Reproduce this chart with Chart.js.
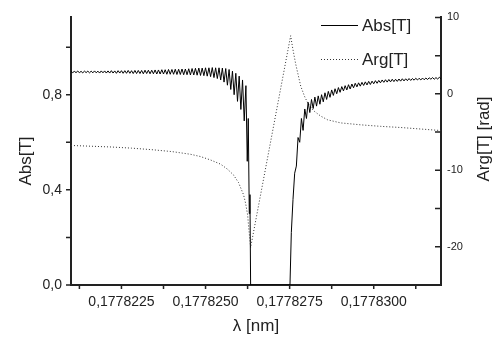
<!DOCTYPE html>
<html>
<head>
<meta charset="utf-8">
<script src="https://cdn.jsdelivr.net/npm/chart.js@4/dist/chart.umd.min.js"></script>
<style>
  html, body { margin: 0; padding: 0; background: #fff; }
  canvas { display: block; }
</style>
</head>
<body>
<canvas id="c" width="498" height="338"></canvas>
<script>
// Transmission spectrum near the resonance: modulus and phase of T(λ)
const absLambda = [
  0.17782100, 0.17782105, 0.17782110, 0.17782115, 0.17782120, 0.17782125, 0.17782130, 0.17782135, 0.17782140, 0.17782145,
  0.17782150, 0.17782155, 0.17782160, 0.17782165, 0.17782170, 0.17782175, 0.17782180, 0.17782185, 0.17782190, 0.17782195,
  0.17782200, 0.17782205, 0.17782210, 0.17782215, 0.17782220, 0.17782225, 0.17782230, 0.17782235, 0.17782240, 0.17782245,
  0.17782250, 0.17782255, 0.17782260, 0.17782265, 0.17782270, 0.17782275, 0.17782280, 0.17782285, 0.17782290, 0.17782295,
  0.17782300, 0.17782305, 0.17782310, 0.17782315, 0.17782320, 0.17782325, 0.17782330, 0.17782335, 0.17782340, 0.17782345,
  0.17782350, 0.17782355, 0.17782360, 0.17782365, 0.17782370, 0.17782375, 0.17782380, 0.17782385, 0.17782390, 0.17782395,
  0.17782400, 0.17782405, 0.17782410, 0.17782415, 0.17782420, 0.17782425, 0.17782430, 0.17782435, 0.17782440, 0.17782445,
  0.17782450, 0.17782455, 0.17782460, 0.17782465, 0.17782470, 0.17782475, 0.17782480, 0.17782485, 0.17782490, 0.17782495,
  0.17782500, 0.17782505, 0.17782510, 0.17782515, 0.17782520, 0.17782525, 0.17782530, 0.17782535, 0.17782540, 0.17782545,
  0.17782550, 0.17782555, 0.17782560, 0.17782565, 0.17782570, 0.17782575, 0.17782580, 0.17782585, 0.17782590, 0.17782595,
  0.17782600, 0.17782605, 0.17782610, 0.17782615, 0.17782620,
  0.17782624, 0.17782627, 0.17782630, 0.17782632, 0.17782634, 0.17782751,
  0.17782755, 0.17782760, 0.17782765, 0.17782770, 0.17782775, 0.17782780, 0.17782785, 0.17782790, 0.17782795, 0.17782800,
  0.17782805, 0.17782810, 0.17782815, 0.17782820, 0.17782825, 0.17782830, 0.17782835, 0.17782840, 0.17782845, 0.17782850,
  0.17782855, 0.17782860, 0.17782865, 0.17782870, 0.17782875, 0.17782880, 0.17782885, 0.17782890, 0.17782895, 0.17782900,
  0.17782905, 0.17782910, 0.17782915, 0.17782920, 0.17782925, 0.17782930, 0.17782935, 0.17782940, 0.17782945, 0.17782950,
  0.17782955, 0.17782960, 0.17782965, 0.17782970, 0.17782975, 0.17782980, 0.17782985, 0.17782990, 0.17782995, 0.17783000,
  0.17783005, 0.17783010, 0.17783015, 0.17783020, 0.17783025, 0.17783030, 0.17783035, 0.17783040, 0.17783045, 0.17783050,
  0.17783055, 0.17783060, 0.17783065, 0.17783070, 0.17783075, 0.17783080, 0.17783085, 0.17783090, 0.17783095, 0.17783100,
  0.17783105, 0.17783110, 0.17783115, 0.17783120, 0.17783125, 0.17783130, 0.17783135, 0.17783140, 0.17783145, 0.17783150,
  0.17783155, 0.17783160, 0.17783165, 0.17783170, 0.17783175, 0.17783180, 0.17783185, 0.17783190, 0.17783195, 0.17783200
];
const absValue = [
  0.898, 0.893, 0.898, 0.893, 0.899, 0.893, 0.898, 0.892, 0.899, 0.893,
  0.899, 0.892, 0.899, 0.892, 0.900, 0.892, 0.899, 0.891, 0.900, 0.892,
  0.900, 0.891, 0.900, 0.891, 0.901, 0.891, 0.900, 0.890, 0.901, 0.891,
  0.901, 0.890, 0.901, 0.890, 0.902, 0.890, 0.901, 0.889, 0.902, 0.889,
  0.902, 0.889, 0.902, 0.888, 0.903, 0.889, 0.903, 0.888, 0.903, 0.888,
  0.904, 0.887, 0.904, 0.887, 0.905, 0.887, 0.905, 0.886, 0.906, 0.886,
  0.906, 0.886, 0.907, 0.885, 0.907, 0.885, 0.908, 0.884, 0.908, 0.884,
  0.909, 0.883, 0.910, 0.883, 0.911, 0.882, 0.912, 0.881, 0.912, 0.880,
  0.913, 0.878, 0.913, 0.876, 0.914, 0.872, 0.913, 0.868, 0.913, 0.862,
  0.912, 0.853, 0.910, 0.840, 0.906, 0.822, 0.899, 0.800, 0.890, 0.772,
  0.878, 0.738, 0.862, 0.690, 0.838,
  0.520, 0.700, 0.300, 0.380, 0.000, 0.000,
  0.220, 0.360, 0.470, 0.500, 0.620, 0.600, 0.700, 0.650, 0.740, 0.700,
  0.768, 0.725, 0.780, 0.742, 0.790, 0.752, 0.795, 0.760, 0.800, 0.770,
  0.808, 0.780, 0.814, 0.789, 0.820, 0.797, 0.825, 0.804, 0.830, 0.810,
  0.834, 0.816, 0.838, 0.820, 0.842, 0.824, 0.845, 0.829, 0.848, 0.833,
  0.850, 0.836, 0.852, 0.839, 0.854, 0.841, 0.856, 0.843, 0.857, 0.846,
  0.859, 0.848, 0.860, 0.850, 0.862, 0.852, 0.863, 0.853, 0.864, 0.854,
  0.865, 0.855, 0.865, 0.856, 0.866, 0.857, 0.867, 0.858, 0.867, 0.859,
  0.868, 0.860, 0.868, 0.861, 0.869, 0.862, 0.869, 0.862, 0.870, 0.863,
  0.870, 0.864, 0.871, 0.865, 0.872, 0.865, 0.872, 0.866, 0.873, 0.867
];
const argLambda = [
  0.17782100, 0.17782160, 0.17782220, 0.17782280, 0.17782340, 0.17782400, 0.17782455, 0.17782485,
  0.17782515, 0.17782545, 0.17782565, 0.17782583, 0.17782598, 0.17782613, 0.17782619, 0.17782625,
  0.17782629, 0.17782634, 0.17782753, 0.17782759, 0.17782768, 0.17782783, 0.17782795, 0.17782804,
  0.17782821, 0.17782842, 0.17782863, 0.17782902, 0.17782961, 0.17783021, 0.17783080, 0.17783140, 0.17783200
];
const argValue = [
  -6.75, -6.85, -6.95, -7.1, -7.3, -7.55, -7.9, -8.2,
  -8.65, -9.2, -9.85, -10.6, -11.6, -13.2, -14.3, -15.8,
  -17.8, -20.1, 7.6, 6.0, 3.9, 1.0, -0.4, -1.2,
  -2.2, -2.9, -3.4, -3.8, -4.05, -4.25, -4.4, -4.6, -4.8
];

const seriesNames = ['Abs[T]', 'Arg[T]'];

const xMajorTicks = [0.1778225, 0.177825, 0.1778275, 0.17783];
const xTickLabels = ['0,1778225', '0,1778250', '0,1778275', '0,1778300'];
const xMinorTicks = [0.17782125, 0.17782375, 0.17782625, 0.17782875, 0.17783125];

const absMajorTicks = [0, 0.4, 0.8];
const absTickLabels = ['0,0', '0,4', '0,8'];
const absMinorTicks = [0.2, 0.6, 1.0];

const argMajorTicks = [-20, -10, 0, 10];
const argTickLabels = ['-20', '-10', '0', '10'];
const argMinorTicks = [-15, -5, 5];

const FONT = '"Liberation Sans", Arial, Helvetica, sans-serif';
const INK = '#222';

Chart.defaults.font.family = FONT;
Chart.defaults.color = INK;

function setTicks(major, minor) {
  return scale => {
    scale.ticks = major.concat(minor).sort((a, b) => a - b).map(v => ({ value: v }));
  };
}
function labelFor(major, labels, tol) {
  return value => {
    const i = major.findIndex(v => Math.abs(v - value) < tol);
    return i >= 0 ? labels[i] : '';
  };
}

// Short outward tick marks on the left and bottom axes, inward ones on the right axis
const tickMarks = {
  id: 'tickMarks',
  afterDraw(chart) {
    const { ctx } = chart;
    const { x, y, y1 } = chart.scales;
    ctx.save();
    ctx.strokeStyle = INK;
    ctx.lineWidth = 1.5;
    ctx.beginPath();
    x.ticks.forEach(t => {
      const px = x.getPixelForValue(t.value);
      ctx.moveTo(px, x.top);
      ctx.lineTo(px, x.top + 4);
    });
    y.ticks.forEach(t => {
      const py = y.getPixelForValue(t.value);
      ctx.moveTo(y.right, py);
      ctx.lineTo(y.right - 5, py);
    });
    y1.ticks.forEach(t => {
      const py = y1.getPixelForValue(t.value);
      ctx.moveTo(y1.left, py);
      ctx.lineTo(y1.left - 6, py);
    });
    ctx.stroke();
    ctx.restore();
  }
};

// Vertical axis titles, both reading bottom to top
const axisTitles = {
  id: 'axisTitles',
  afterDraw(chart) {
    const { ctx } = chart;
    ctx.save();
    ctx.fillStyle = INK;
    ctx.font = '17px ' + FONT;
    ctx.textAlign = 'center';
    ctx.textBaseline = 'middle';
    [[26, 161, 'Abs[T]'], [484, 139, 'Arg[T] [rad]']].forEach(([tx, ty, text]) => {
      ctx.save();
      ctx.translate(tx, ty);
      ctx.rotate(-Math.PI / 2);
      ctx.fillText(text, 0, 0);
      ctx.restore();
    });
    ctx.restore();
  }
};

// Key in the upper right corner of the plot
const seriesKey = {
  id: 'seriesKey',
  afterDraw(chart) {
    const { ctx } = chart;
    const rows = [25, 59];
    ctx.save();
    chart.data.datasets.forEach((ds, i) => {
      const yy = rows[i];
      ctx.strokeStyle = ds.borderColor;
      ctx.lineWidth = ds.borderWidth;
      ctx.setLineDash(ds.borderDash || []);
      ctx.beginPath();
      ctx.moveTo(321, yy + 0.5);
      ctx.lineTo(358, yy + 0.5);
      ctx.stroke();
      ctx.setLineDash([]);
      ctx.fillStyle = INK;
      ctx.font = '17px ' + FONT;
      ctx.textAlign = 'left';
      ctx.textBaseline = 'middle';
      ctx.fillText(ds.label, 362, yy + 1);
    });
    ctx.restore();
  }
};

new Chart(document.getElementById('c'), {
  type: 'line',
  data: {
    datasets: [
      {
        label: seriesNames[0],
        data: absLambda.map((l, i) => ({ x: l, y: absValue[i] })),
        yAxisID: 'y',
        borderColor: '#000',
        borderWidth: 1,
        pointRadius: 0,
        tension: 0
      },
      {
        label: seriesNames[1],
        data: argLambda.map((l, i) => ({ x: l, y: argValue[i] })),
        yAxisID: 'y1',
        borderColor: '#333',
        borderWidth: 1,
        borderDash: [1, 2],
        pointRadius: 0,
        tension: 0
      }
    ]
  },
  options: {
    responsive: false,
    devicePixelRatio: 1,
    animation: false,
    events: [],
    layout: { padding: { top: 13, left: 0, right: 0, bottom: 0 } },
    plugins: { legend: { display: false }, tooltip: { enabled: false } },
    scales: {
      x: {
        type: 'linear',
        position: 'bottom',
        min: 0.177821,
        max: 0.177832,
        afterBuildTicks: setTicks(xMajorTicks, xMinorTicks),
        afterFit: s => { s.height = 53; },
        grid: { display: false, drawTicks: false },
        border: { display: true, color: INK, width: 2 },
        ticks: {
          autoSkip: false, maxRotation: 0, minRotation: 0, padding: 9,
          font: { size: 14 },
          callback: labelFor(xMajorTicks, xTickLabels, 1e-12)
        },
        title: { display: true, text: 'λ [nm]', font: { size: 17 }, padding: { top: 0, bottom: 1 } }
      },
      y: {
        type: 'linear',
        position: 'left',
        min: 0,
        max: 1.125,
        afterBuildTicks: setTicks(absMajorTicks, absMinorTicks),
        afterFit: s => { s.width = 71; },
        grid: { display: false, drawTicks: false },
        border: { display: true, color: INK, width: 2 },
        ticks: {
          autoSkip: false, padding: 9,
          font: { size: 14 },
          callback: labelFor(absMajorTicks, absTickLabels, 1e-9)
        }
      },
      y1: {
        type: 'linear',
        position: 'right',
        min: -25,
        max: 10,
        afterBuildTicks: setTicks(argMajorTicks, argMinorTicks),
        afterFit: s => { s.width = 57; },
        grid: { display: false, drawTicks: false },
        border: { display: true, color: INK, width: 2 },
        ticks: {
          autoSkip: false, padding: 6,
          font: { size: 11 },
          callback: labelFor(argMajorTicks, argTickLabels, 1e-9)
        }
      }
    }
  },
  plugins: [tickMarks, axisTitles, seriesKey]
});
</script>
</body>
</html>
